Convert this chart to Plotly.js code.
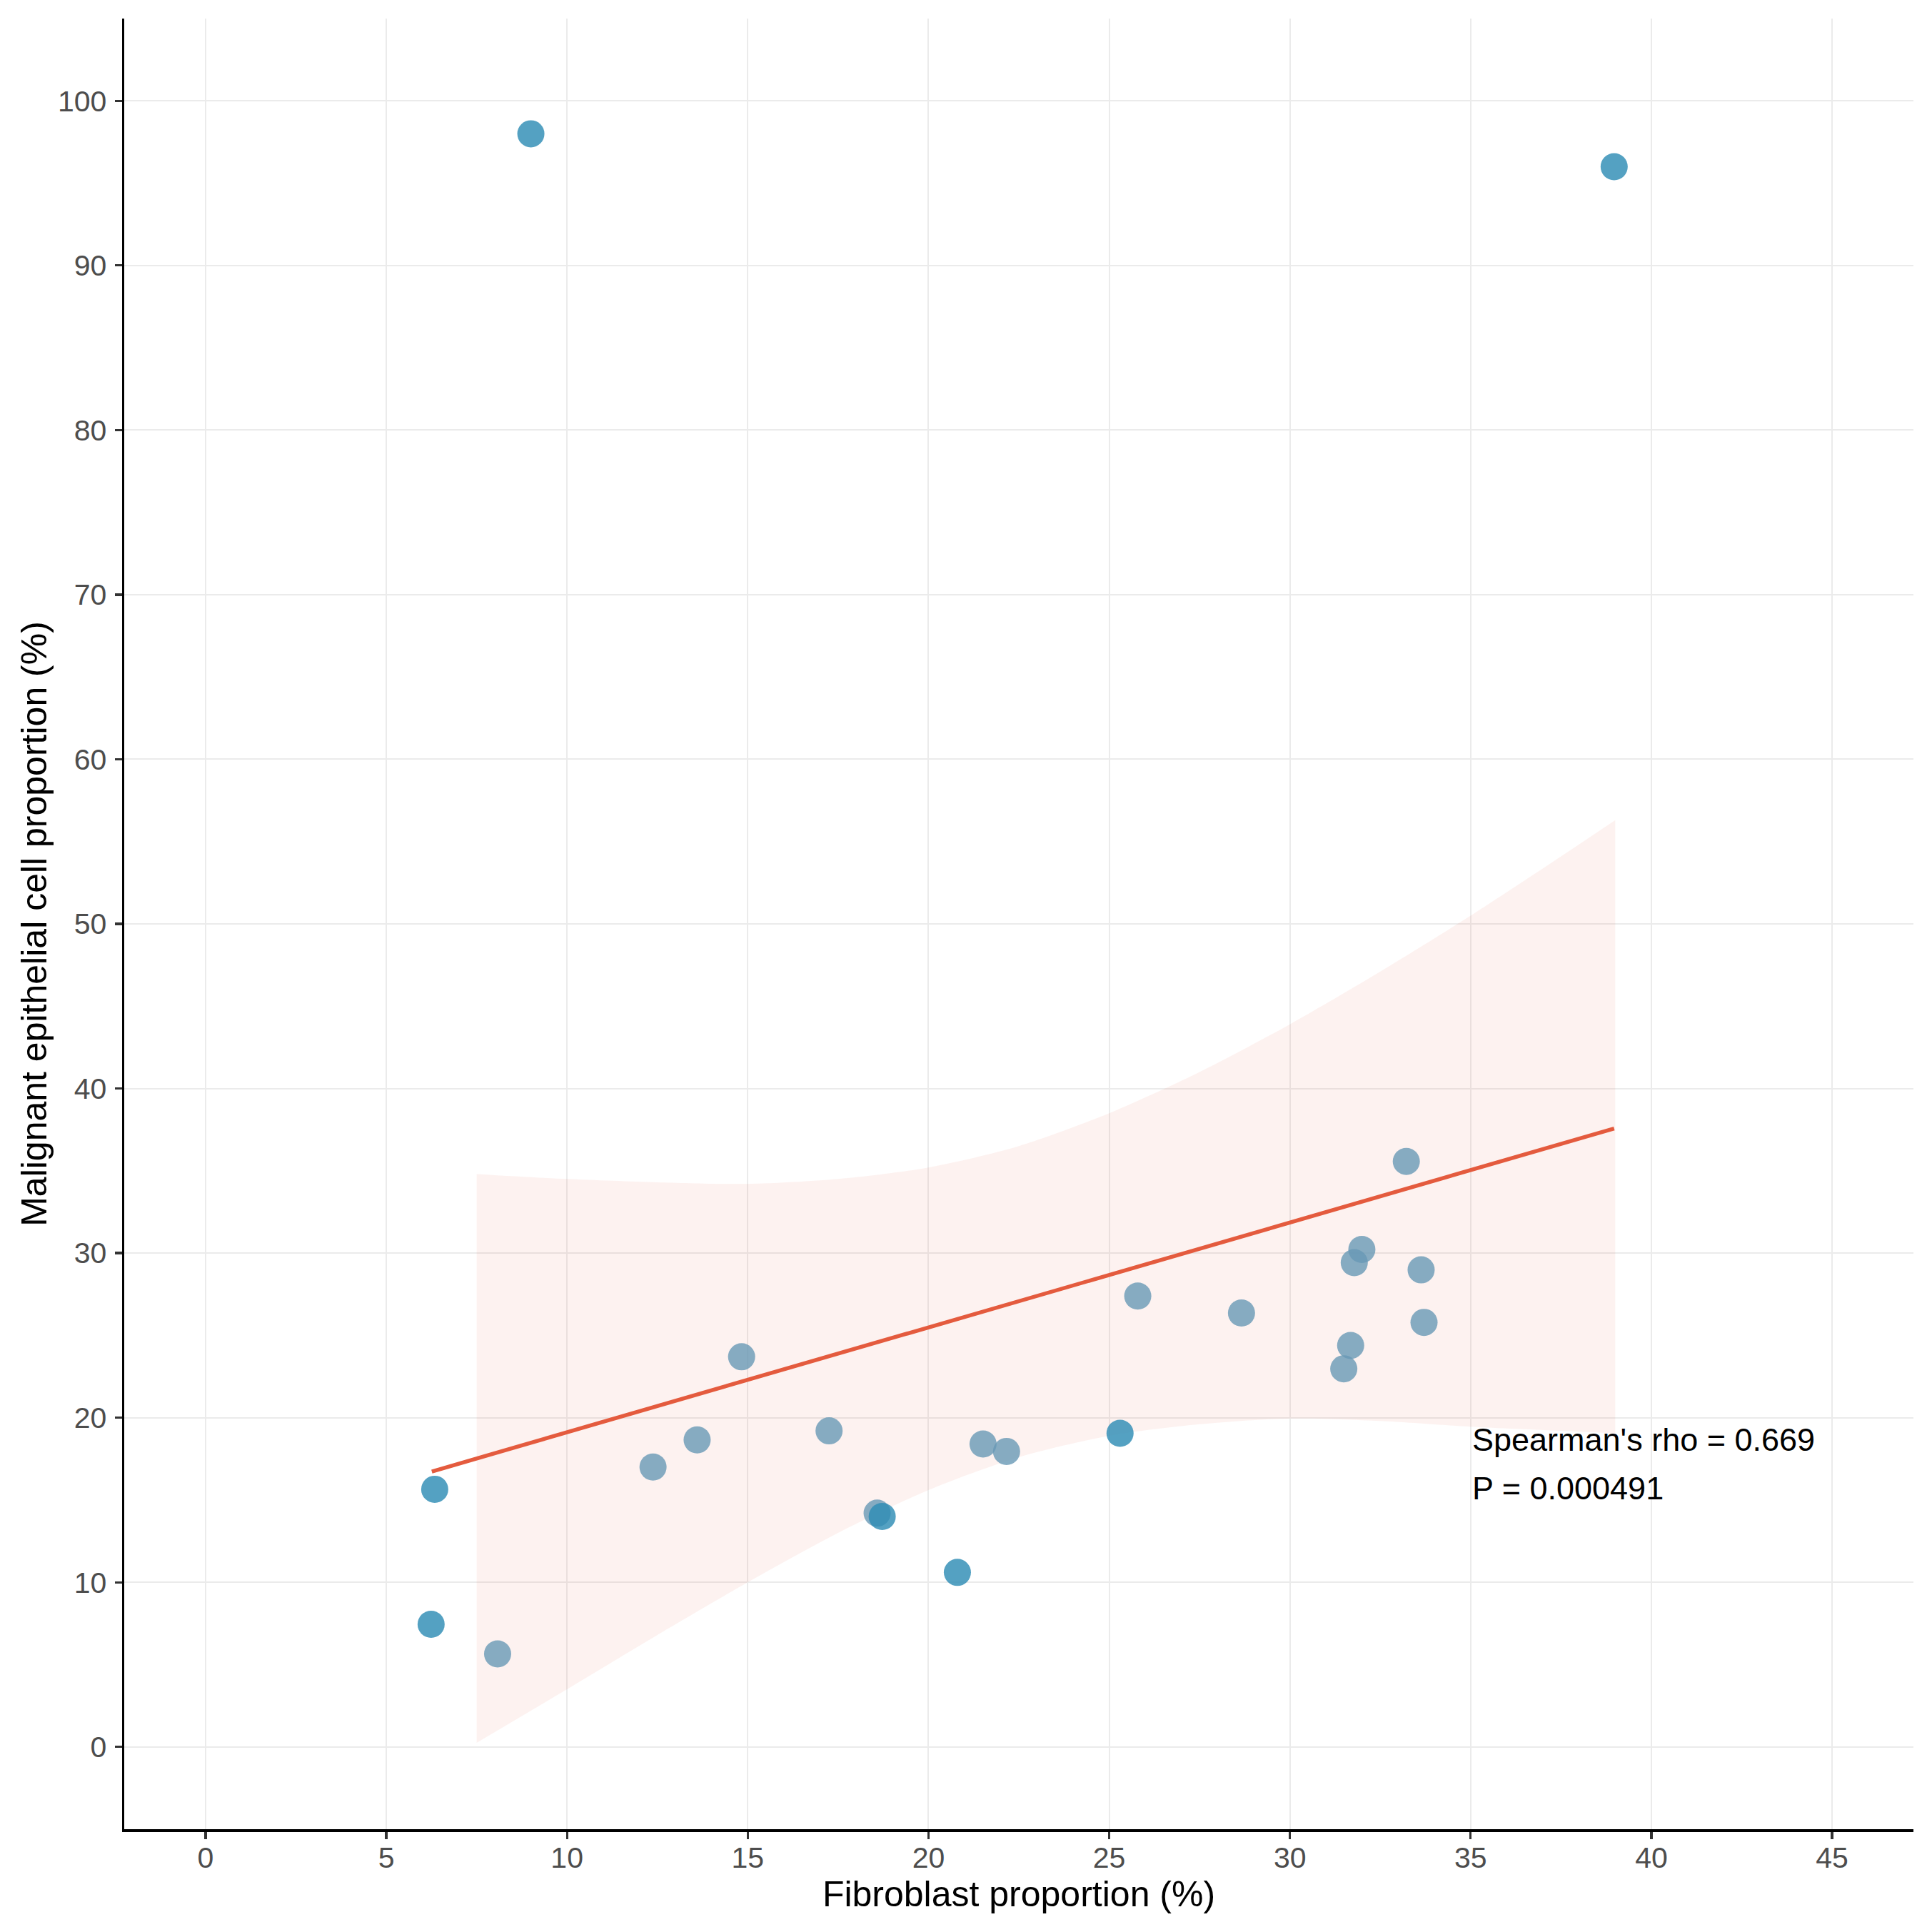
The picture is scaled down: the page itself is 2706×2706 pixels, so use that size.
<!DOCTYPE html>
<html>
<head>
<meta charset="utf-8">
<script src="https://cdn.plot.ly/plotly-3.0.1.min.js"></script>
<style>
  html, body { margin: 0; padding: 0; background: #ffffff; }
  #chart { width: 2706px; height: 2706px; }
</style>
</head>
<body>
<div id="chart"></div>
<script>
// samples: fibroblast % (x) vs malignant epithelial % (y)
const lightX = [33.22, 31.99, 31.78, 33.63, 25.79, 28.66, 33.71, 31.68, 31.49, 14.83, 17.25, 13.60, 21.51, 22.16, 12.38, 18.58, 8.08];
const lightY = [35.57, 30.22, 29.42, 28.98, 27.39, 26.36, 25.79, 24.39, 22.97, 23.70, 19.20, 18.65, 18.40, 17.95, 17.00, 14.20, 5.65];
const darkX = [9.00, 38.97, 25.30, 6.34, 18.72, 20.80, 6.24];
const darkY = [98.00, 96.00, 19.05, 15.65, 14.00, 10.60, 7.45];

// regression line and its confidence band
const fitX = [6.26, 38.97];
const fitY = [16.73, 37.57];
const bandX = [7.5, 10, 12.5, 15, 17.5, 20, 22.5, 25, 27.5, 30, 32.5, 35, 37.5, 39];
const bandUpper = [34.8, 34.5, 34.3, 34.2, 34.5, 35.2, 36.5, 38.5, 41.0, 43.9, 47.1, 50.5, 54.1, 56.3];
const bandLower = [0.25, 3.5, 6.8, 10.0, 13.0, 15.6, 17.6, 18.9, 19.6, 19.95, 19.8, 19.45, 19.2, 19.05];

const xTicks = [0, 5, 10, 15, 20, 25, 30, 35, 40, 45];
const yTicks = [0, 10, 20, 30, 40, 50, 60, 70, 80, 90, 100];

const statLines = ["Spearman's rho = 0.669", "P = 0.000491"];
const statX = 35;
const statY = [18.65, 15.7];

const FONT = "Liberation Sans, Arial, Helvetica, sans-serif";

const traces = [
  {
    x: bandX,
    y: bandLower,
    type: "scatter",
    mode: "lines",
    line: { width: 0, color: "rgba(0,0,0,0)", shape: "spline", smoothing: 0.8 },
    hoverinfo: "skip",
  },
  {
    x: bandX,
    y: bandUpper,
    type: "scatter",
    mode: "lines",
    fill: "tonexty",
    fillcolor: "rgba(228,91,62,0.08)",
    line: { width: 0, color: "rgba(0,0,0,0)", shape: "spline", smoothing: 0.8 },
    hoverinfo: "skip",
  },
  {
    x: lightX,
    y: lightY,
    type: "scatter",
    mode: "markers",
    marker: { size: 38, color: "rgba(104,152,181,0.8)", line: { width: 0 } },
  },
  {
    x: darkX,
    y: darkY,
    type: "scatter",
    mode: "markers",
    marker: { size: 38, color: "rgba(46,140,180,0.82)", line: { width: 0 } },
  },
  {
    x: fitX,
    y: fitY,
    type: "scatter",
    mode: "lines",
    line: { color: "#E45B3E", width: 5.5 },
  },
];

const axisBase = {
  showline: true,
  linecolor: "#000000",
  linewidth: 3.5,
  ticks: "outside",
  ticklen: 10,
  tickwidth: 3.3,
  tickcolor: "#333333",
  tickfont: { family: FONT, size: 41, color: "#4D4D4D" },
  showgrid: true,
  gridcolor: "#EBEBEB",
  gridwidth: 2,
  zeroline: false,
  mirror: false,
};

const layout = {
  width: 2706,
  height: 2706,
  margin: { l: 174, r: 26, t: 26, b: 144 },
  paper_bgcolor: "#ffffff",
  plot_bgcolor: "#ffffff",
  showlegend: false,
  xaxis: Object.assign({}, axisBase, {
    range: [-2.25, 47.25],
    tickmode: "array",
    tickvals: xTicks,
    ticktext: xTicks.map(String),
    ticklabelstandoff: -9,
    title: { text: "Fibroblast proportion (%)", font: { family: FONT, size: 50, color: "#000000" }, standoff: 4 },
  }),
  yaxis: Object.assign({}, axisBase, {
    range: [-5, 105],
    tickmode: "array",
    tickvals: yTicks,
    ticktext: yTicks.map(String),
    ticklabelstandoff: 3,
    title: { text: "Malignant epithelial cell proportion (%)", font: { family: FONT, size: 50, color: "#000000" }, standoff: 0 },
  }),
  annotations: statLines.map((text, i) => ({
    x: statX,
    y: statY[i],
    xref: "x",
    yref: "y",
    text: text,
    showarrow: false,
    xanchor: "left",
    yanchor: "middle",
    font: { family: FONT, size: 45, color: "#000000" },
  })),
};

Plotly.newPlot("chart", traces, layout, { staticPlot: true, displayModeBar: false });
</script>
</body>
</html>
